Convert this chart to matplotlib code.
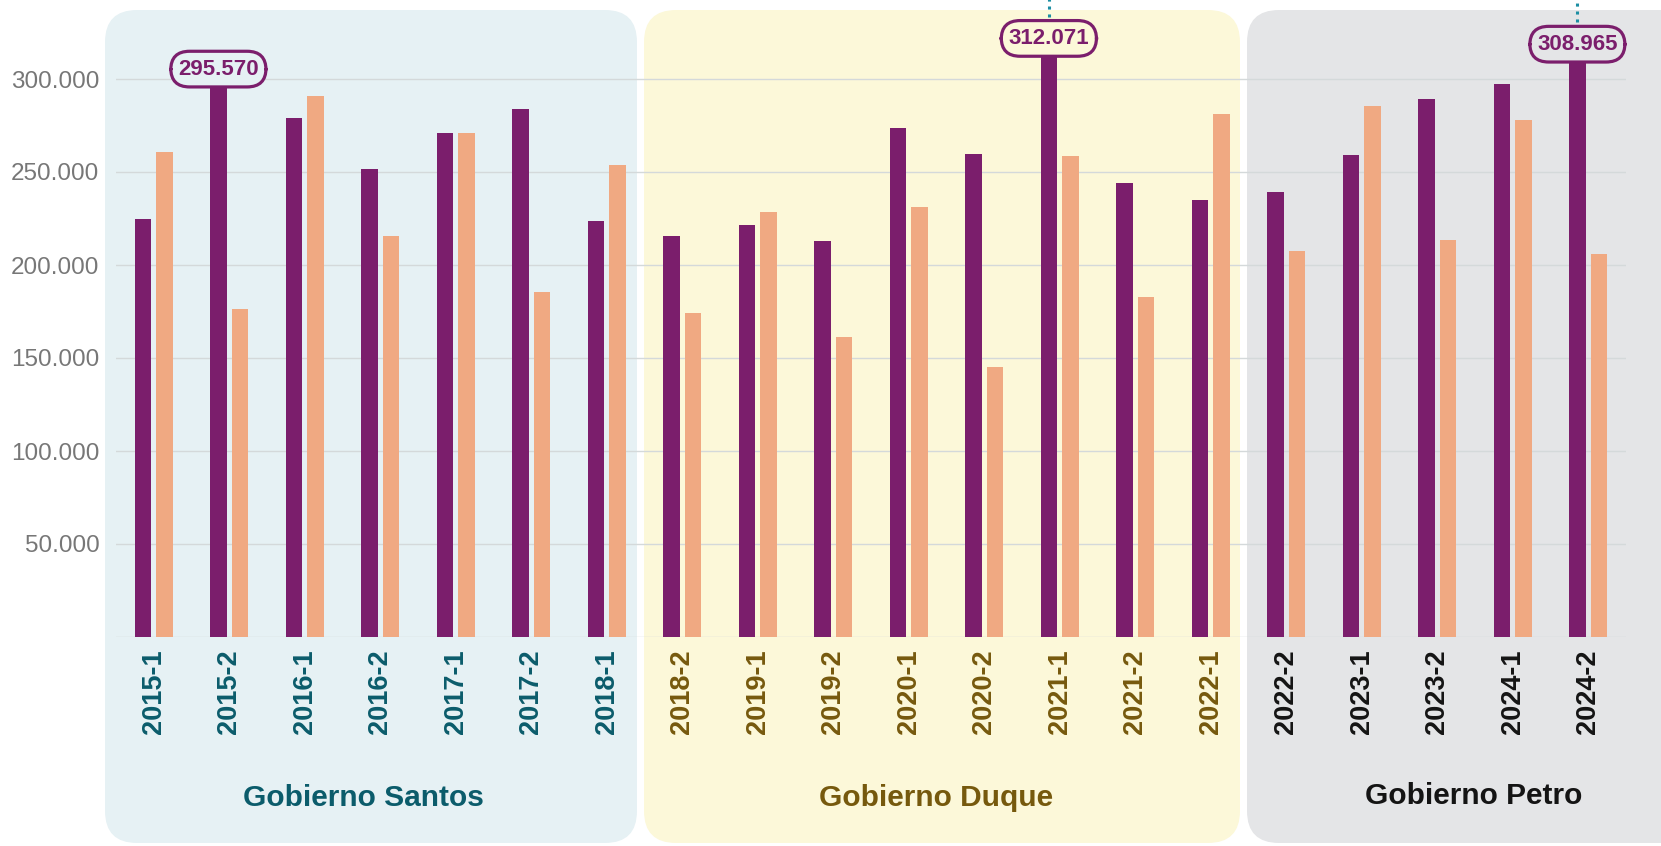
import matplotlib
matplotlib.use("Agg")
import matplotlib.pyplot as plt
from matplotlib.patches import FancyBboxPatch
import numpy as np

## datos
periodos = [
    "2015-1", "2015-2", "2016-1", "2016-2", "2017-1", "2017-2", "2018-1",
    "2018-2", "2019-1", "2019-2", "2020-1", "2020-2", "2021-1", "2021-2", "2022-1",
    "2022-2", "2023-1", "2023-2", "2024-1", "2024-2",
]
serie_morada = [
    224600, 295570, 279200, 251800, 271100, 283700, 223800,
    215600, 221500, 212900, 273500, 259700, 312071, 243900, 234800,
    239100, 259300, 289100, 297300, 308965,
]
serie_naranja = [
    260600, 176200, 291000, 215400, 270800, 185500, 253900,
    174300, 228300, 161300, 231000, 145000, 258800, 182900, 281300,
    207700, 285500, 213400, 277900, 205700,
]
gobiernos = ["Gobierno Santos", "Gobierno Duque", "Gobierno Petro"]
gobierno_de = [0] * 7 + [1] * 8 + [2] * 5
destacados = [1, 12, 19]
con_linea = [12, 19]

# colores
morado = "#7B1E6C"
naranja = "#F0A982"
fondo_gob = ["#E6F1F4", "#FCF8D9", "#E4E5E7"]
texto_gob = ["#0B5C6B", "#76590D", "#141414"]

plt.rcParams["font.family"] = ["Liberation Sans", "DejaVu Sans"]

W, H = 1661, 846
fig = plt.figure(figsize=(W / 100, H / 100), dpi=100)
fig.patch.set_facecolor("white")

# paneles de fondo (en pixeles -> pulgadas)
paneles = [(105, 637), (644, 1240), (1247, 1720)]
for (x0, x1), c in zip(paneles, fondo_gob):
    p = FancyBboxPatch(
        (x0 / 100, (H - 843) / 100), (x1 - x0) / 100, (843 - 10) / 100,
        boxstyle="round,pad=0,rounding_size=0.32",
        transform=fig.dpi_scale_trans, fc=c, ec="none", zorder=0,
    )
    fig.add_artist(p)

ax = fig.add_axes([116 / W, (H - 637) / H, (1626 - 116) / W, 613.8 / H])
ax.set_facecolor("none")
ax.set_zorder(2)

x = np.arange(len(periodos))
w = 0.217
off = 0.144
ax.bar(x - off, serie_morada, w, color=morado, zorder=3)
ax.bar(x + off, serie_naranja, w, color=naranja, zorder=3)

ax.set_xlim(-0.5, 19.5)
ax.set_ylim(0, 330000)
yt = list(range(0, 300001, 50000))
ax.set_yticks(yt)
ax.set_yticklabels(["" if v == 0 else f"{v:,}".replace(",", ".") for v in yt])
ax.grid(axis="y", color="#D4D9DA", lw=1, zorder=0)
ax.tick_params(axis="y", length=0, pad=12, labelsize=17.5, labelcolor="#777777")

ax.set_xticks(x)
ax.set_xticklabels(periodos, rotation=90, fontweight="bold", fontsize=19.5)
ax.tick_params(axis="x", length=0, pad=9)
for lab, g in zip(ax.get_xticklabels(), gobierno_de):
    lab.set_color(texto_gob[g])

for s in ax.spines.values():
    s.set_visible(False)

# etiquetas de los maximos
for i in destacados:
    v = serie_morada[i]
    ax.annotate(
        f"{v:,}".replace(",", "."), (x[i] - off, v),
        xytext=(0, 5.5), textcoords="offset points",
        ha="center", va="bottom", fontsize=16, fontweight="bold", color=morado,
        bbox=dict(boxstyle="round,pad=0.33,rounding_size=0.85",
                  fc=fondo_gob[gobierno_de[i]], ec=morado, lw=2.3),
        zorder=5, annotation_clip=False,
    )
for i in con_linea:
    v = serie_morada[i]
    ax.vlines(x[i] - off, v + 21500, 360000, colors="#1C8EA3",
              linestyles=(0, (1, 1.6)), lw=2.2, clip_on=False, zorder=4)

# nombres de gobierno
pos_gob = [(363, 798), (936, 798), (1474, 796)]
for (px, py), nombre, c in zip(pos_gob, gobiernos, texto_gob):
    fig.text(px / W, (H - py) / H, nombre, ha="center", va="center",
             fontsize=21.5, fontweight="bold", color=c)

fig.savefig("out.png", dpi=100)
